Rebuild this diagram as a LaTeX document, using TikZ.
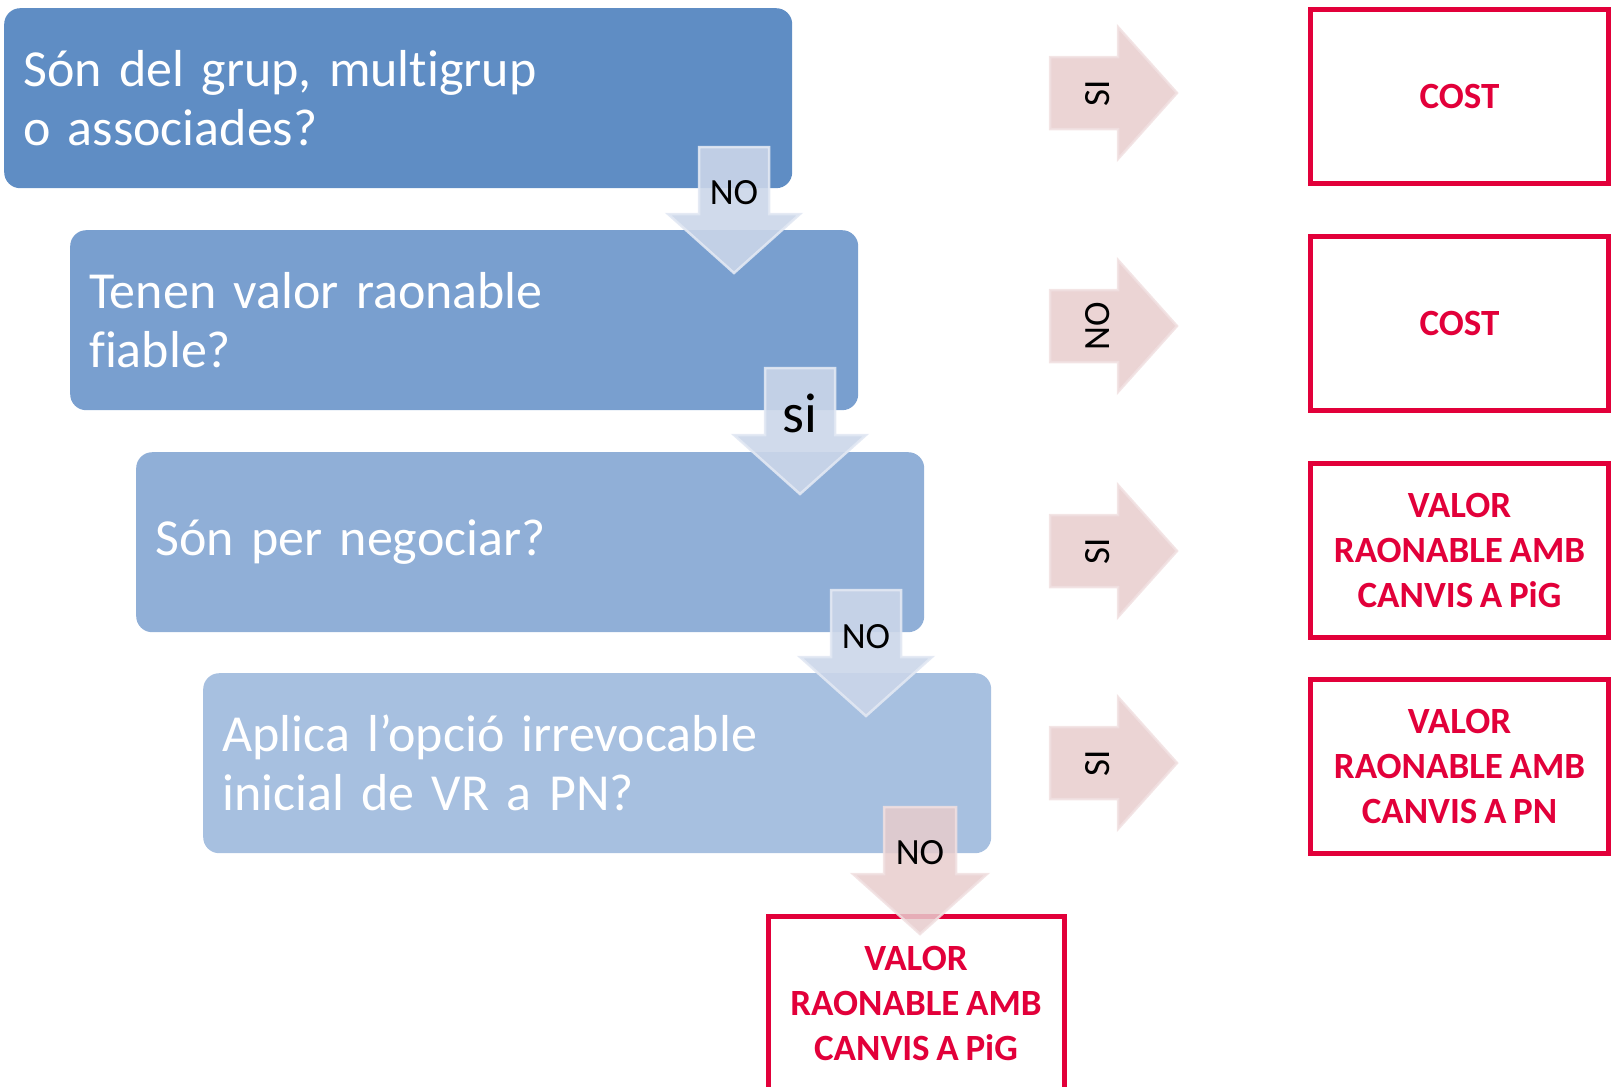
\documentclass[tikz,border=0pt]{standalone}
\usepackage{fontspec}
\setmainfont{Carlito}[Ligatures=NoCommon, WordSpace=0.8]
\usetikzlibrary{positioning, calc, shadows}
\definecolor{qblueA}{HTML}{5F8DC4}
\definecolor{qblueB}{HTML}{799FCF}
\definecolor{qblueC}{HTML}{90AFD7}
\definecolor{qblueD}{HTML}{A7C0E0}
\definecolor{arrblue}{HTML}{CBD6E9}
\definecolor{arrpink}{HTML}{E7CCCD}
\definecolor{resred}{HTML}{E2003A}

\begin{document}
\begin{tikzpicture}[x=1pt,y=-1pt,qbox/.style={anchor=north west, rounded corners=16pt, minimum width=788pt, minimum height=180pt, inner xsep=19pt, text width=750pt, align=left, text=white, font=\fontsize{52}{59}\selectfont},rbox/.style={draw=resred, line width=5pt, fill=white, minimum width=298pt, minimum height=174pt, align=center, text=resred, font=\fontsize{37}{45}\selectfont\bfseries, drop shadow={opacity=.18, shadow xshift=2pt, shadow yshift=-2pt}},barr/.style={fill=arrblue, draw=white!45!arrblue, line width=2.5pt, fill opacity=.9, draw opacity=.9},parr/.style={fill=arrpink, draw=white!40!arrpink, line width=2.5pt, fill opacity=.85, draw opacity=.85},lab/.style={font=\fontsize{37}{40}\selectfont, inner sep=0pt}]
\useasboundingbox (0,0) rectangle (1612,1087);
% question boxes
\node[qbox, fill=qblueA] (q1) at (4,8) {Són del grup, multigrup\\o associades?};
\node[qbox, fill=qblueB] (q2) at (70,230) {Tenen valor raonable\\fiable?};
\node[qbox, fill=qblueC] (q3) at (136,452) {Són per negociar?};
\node[qbox, fill=qblueD] (q4) at (203,673) {Aplica l’opció irrevocable\\inicial de VR a PN?};
% down arrows between the questions
\path[barr, shift={(734,147)}] (-35,0) -- (35,0) -- (35,67) -- (66,67) -- (0,126) -- (-66,67) -- (-35,67) -- cycle; \node[lab] (d1) at (734,193) {NO};
\path[barr, shift={(800,368)}] (-35,0) -- (35,0) -- (35,67) -- (66,67) -- (0,126) -- (-66,67) -- (-35,67) -- cycle; \node[lab, font=\fontsize{56}{60}\selectfont] (d2) at (800,413) {si};
\path[barr, shift={(866,590)}] (-35,0) -- (35,0) -- (35,67) -- (66,67) -- (0,126) -- (-66,67) -- (-35,67) -- cycle; \node[lab] (d3) at (866,637) {NO};
% right arrows and results
\foreach \yy/\lab [count=\i] in {93/SI, 326/NO, 551/SI, 763/SI}{
	\path[parr, shift={(1050,\yy)}] (0,-36) -- (68,-36) -- (68,-66) -- (127,0) -- (68,66) -- (68,36) -- (0,36) -- cycle;
	\node[lab, rotate=90] (a\i) at (1098,\yy) {\lab};
}
\node[rbox] (r1) at (1459.5,96) {COST};
\node[rbox] (r2) at (1459.5,323.5) {COST};
\node[rbox] (r3) at (1459.5,550) {VALOR\\RAONABLE AMB\\CANVIS A PiG};
\node[rbox] (r4) at (1459.5,766.5) {VALOR\\RAONABLE AMB\\CANVIS A PN};
\node[rbox, minimum width=296pt] (r5) at (916,1003) {VALOR\\RAONABLE AMB\\CANVIS A PiG};
\path[parr, shift={(920,807)}] (-36,0) -- (36,0) -- (36,67) -- (67,67) -- (0,127) -- (-67,67) -- (-36,67) -- cycle; \node[lab] (d4) at (920,853) {NO};
\end{tikzpicture}
\end{document}
